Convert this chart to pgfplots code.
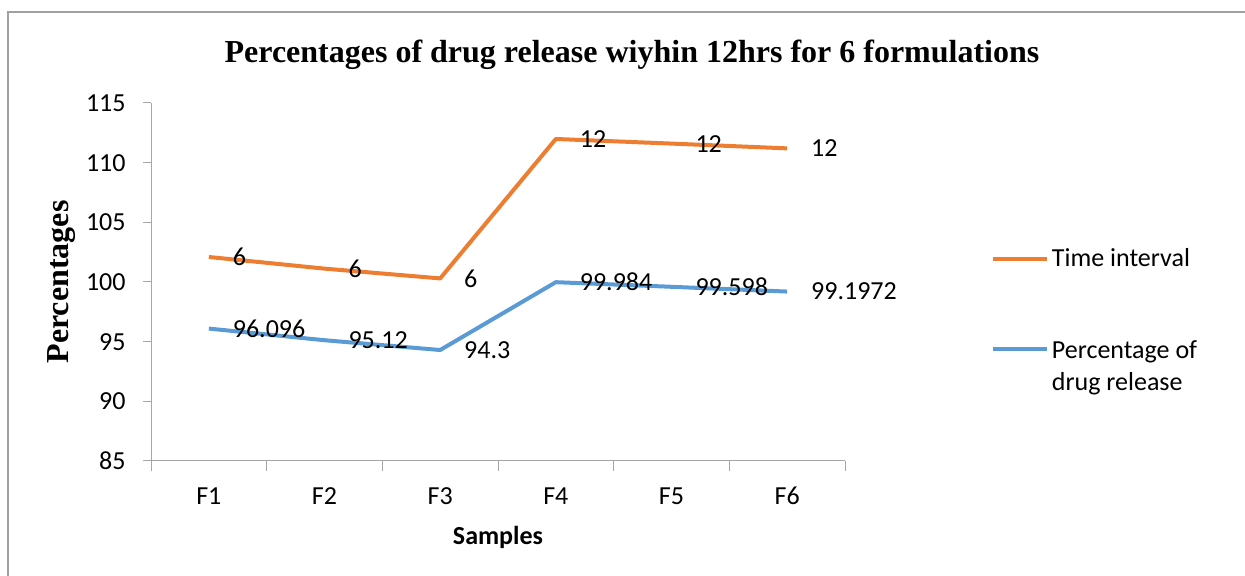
\documentclass[border=0pt]{standalone}
\usepackage{fontspec}
\setmainfont{Carlito}
\newfontfamily\titlefont{Liberation Serif}
\usepackage{pgfplots}
\pgfplotsset{compat=1.18}
\definecolor{timeorange}{HTML}{ED7D31}
\definecolor{releaseblue}{HTML}{5B9BD5}
\definecolor{framegray}{HTML}{A0A0A0}
\definecolor{axisgray}{HTML}{A6A6A6}

\begin{document}
\begin{tikzpicture}
\path[use as bounding box] (0pt,0pt) rectangle (622.5pt,288pt);
\draw[framegray, line width=1pt] (4pt,0pt) -- (4pt,282pt) -- (622.5pt,282pt);
\node[font=\titlefont\bfseries\fontsize{16}{19}\selectfont] at (316pt,260.5pt)
  {Percentages of drug release wiyhin 12hrs for 6 formulations};
\begin{axis}[
  at={(75.5pt,57.5pt)}, anchor=south west,
  scale only axis, width=347pt, height=179pt,
  xmin=-0.5, xmax=5.5, ymin=85, ymax=115,
  axis x line=bottom, axis y line=left,
  axis line style={axisgray, line width=0.5pt, -},
  xtick={0,...,5},
  xticklabels={F1,F2,F3,F4,F5,F6},
  minor xtick={-0.5,0.5,...,5.5},
  ytick={85,90,...,115},
  tick align=outside,
  major tick length=4pt, minor tick length=5pt,
  major x tick style={draw=none},
  minor x tick style={axisgray, line width=0.5pt},
  major y tick style={axisgray, line width=0.5pt},
  /pgf/number format/assume math mode=true,
  tick label style={font=\fontsize{13}{16}\selectfont},
  xticklabel style={anchor=north, inner sep=0pt, yshift=-9pt},
  yticklabel style={anchor=east, inner sep=0pt, xshift=-8.5pt},
  xlabel={\bfseries Samples},
  xlabel style={at={(axis description cs:0.5,-0.2123)}, anchor=center,
    font=\fontsize{13}{16}\selectfont},
  ylabel={Percentages},
  ylabel style={at={(axis description cs:-0.1282,0.5)}, anchor=center,
    font=\titlefont\bfseries\fontsize{16}{19}\selectfont},
  stack plots=y,
  point meta=explicit symbolic,
  nodes near coords,
  nodes near coords style={anchor=west, inner sep=0pt, xshift=11pt,
    font=\fontsize{13}{16}\selectfont, text=black},
  reverse legend,
  legend cell align=left,
  legend image code/.code={\draw[#1] (0pt,0pt) -- (27pt,0pt);},
  legend style={at={(axis description cs:1.2104,0.6005)}, anchor=north west,
    draw=none, fill=none, inner sep=0pt,
    font=\fontsize{13}{16}\selectfont,
    row sep=30.5pt, column sep=0pt,
    nodes={inner sep=1.25pt}},
]
% drug release percentage (base series)
\addplot[releaseblue, line width=2pt, line join=round] coordinates {
  (0,96.096) [96.096]
  (1,95.12)  [95.12]
  (2,94.3)   [94.3]
  (3,99.984) [99.984]
  (4,99.598) [99.598]
  (5,99.1972) [99.1972]
};
\addlegendentry{\begin{tabular}[t]{@{}l@{}}Percentage of\\drug release\end{tabular}}
% time interval in hours, stacked on top of the release curve
\addplot[timeorange, line width=2pt, line join=round] coordinates {
  (0,6)  [6]
  (1,6)  [6]
  (2,6)  [6]
  (3,12) [12]
  (4,12) [12]
  (5,12) [12]
};
\addlegendentry{Time interval}
\end{axis}
\end{tikzpicture}
\end{document}
